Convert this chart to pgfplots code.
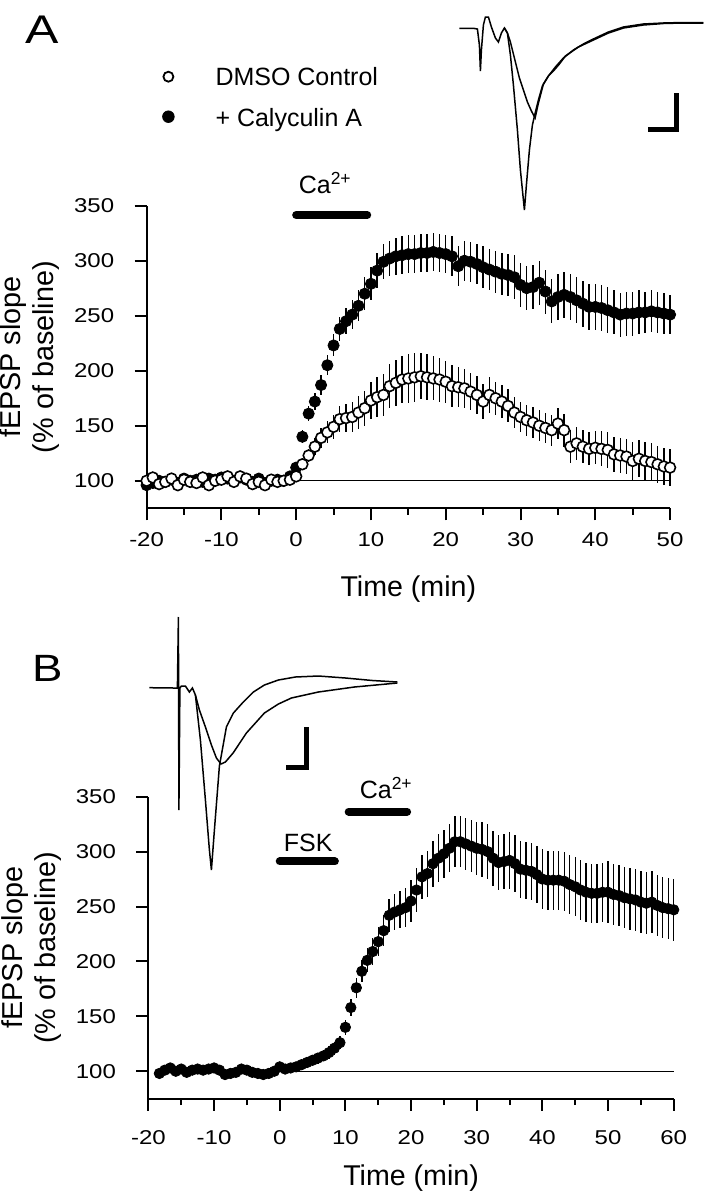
\documentclass[border=0pt]{standalone}
\usepackage{fontspec}
\setmainfont{Liberation Sans}
\usepackage{pgfplots}
\pgfplotsset{compat=1.18}

% one image pixel = 0.5pt; overlay axis uses pixel coordinates (y down)
\pgfplotsset{
  fepsp/.style={
    scale only axis,
    anchor=south west,
    ymin=75, ymax=350,
    axis x line*=bottom, axis y line*=left,
    axis line style={line width=1pt, -},
    ytick={100,150,...,350},
    tick align=outside,
    major tick length=6pt, minor tick length=3.2pt,
    every tick/.style={black, line width=1pt},
    tick label style={font=\fontsize{10}{12}\selectfont, xscale=1.2},
    yticklabel style={xshift=-5pt},
    xticklabel style={yshift=-2.5pt},
    /pgf/number format/assume math mode=true,
    every axis y label/.style={at={(axis description cs:-0.165,0.5)}, rotate=90,
      anchor=south, align=center, inner sep=0pt, font=\fontsize{14.4}{16.5}\selectfont},
    ylabel={fEPSP slope\\(\% of baseline)},
    xlabel={Time (min)},
    clip=false,
  },
  errs/.style={error bars/y dir=both, error bars/y explicit, error bars/error mark=none,
    error bars/error bar style={line width=0.7pt, black}},
  filled/.style={only marks, mark=*, mark size=2.8pt, black, errs},
  open/.style={only marks, mark=*, mark size=2.7pt,
    mark options={fill=white, draw=black, line width=0.8pt}, errs},
}

\begin{document}
\begin{tikzpicture}
\path (0pt,0pt) rectangle (353pt,599.5pt);

% ---------------- panel A ----------------
\begin{axis}[fepsp,
  at={(71.6pt,345.35pt)}, width=261.75pt, height=151.3pt,
  xmin=-20, xmax=50,
  xtick={-20,-10,...,50}, minor xtick={-15,-5,...,45},
  every axis x label/.style={at={(axis description cs:0.5,-0.292)}, anchor=base,
    font=\fontsize{14.3}{16}\selectfont},
]
\addplot[black, line width=0.7pt] coordinates {(0,100) (50,100)};
\addplot[black, line width=4pt, line cap=round] coordinates {(0,341.5) (9.5,341.5)};
% + Calyculin A
\addplot[filled] coordinates {
 (-20.00,96) +- (0,4) (-19.17,98) +- (0,4) (-18.33,100) +- (0,4) (-17.50,99) +- (0,4) (-16.67,101) +- (0,4)
 (-15.83,98) +- (0,4) (-15.00,102) +- (0,4) (-14.17,100) +- (0,4) (-13.33,101) +- (0,4) (-12.50,99) +- (0,4)
 (-11.67,102) +- (0,4) (-10.83,101) +- (0,4) (-10.00,103) +- (0,4) (-9.17,102) +- (0,4) (-8.33,100) +- (0,4)
 (-7.50,103) +- (0,4) (-6.67,101) +- (0,4) (-5.83,99) +- (0,4) (-5.00,102) +- (0,4) (-4.17,98) +- (0,4)
 (-3.33,100) +- (0,4) (-2.50,101) +- (0,4) (-1.67,100) +- (0,4) (-0.83,104) +- (0,4) (0.00,112) +- (0,5)
 (0.83,140) +- (0,6) (1.67,161) +- (0,7) (2.50,172) +- (0,8) (3.33,187) +- (0,9) (4.17,205) +- (0,9)
 (5.00,223) +- (0,10) (5.83,238) +- (0,11) (6.67,245) +- (0,12) (7.50,251) +- (0,13) (8.33,259) +- (0,14)
 (9.17,270) +- (0,15) (10.00,279) +- (0,15) (10.83,291) +- (0,16) (11.67,299) +- (0,16) (12.50,302) +- (0,16)
 (13.33,304) +- (0,17) (14.17,305) +- (0,17) (15.00,306) +- (0,17) (15.83,306) +- (0,17) (16.67,307) +- (0,17)
 (17.50,307) +- (0,17) (18.33,308) +- (0,17) (19.17,307) +- (0,17) (20.00,306) +- (0,17) (20.83,304) +- (0,18)
 (21.67,295) +- (0,18) (22.50,300) +- (0,18) (23.33,299) +- (0,18) (24.17,297) +- (0,18) (25.00,294) +- (0,19)
 (25.83,292) +- (0,19) (26.67,290) +- (0,19) (27.50,288) +- (0,19) (28.33,287) +- (0,19) (29.17,285) +- (0,20)
 (30.00,278) +- (0,20) (30.83,275) +- (0,20) (31.67,276) +- (0,20) (32.50,280) +- (0,20) (33.33,272) +- (0,20)
 (34.17,263) +- (0,20) (35.00,267) +- (0,21) (35.83,269) +- (0,21) (36.67,267) +- (0,21) (37.50,264) +- (0,21)
 (38.33,261) +- (0,21) (39.17,258) +- (0,21) (40.00,258) +- (0,21) (40.83,257) +- (0,21) (41.67,255) +- (0,21)
 (42.50,253) +- (0,20) (43.33,251) +- (0,20) (44.17,252) +- (0,20) (45.00,252) +- (0,20) (45.83,253) +- (0,20)
 (46.67,253) +- (0,19) (47.50,254) +- (0,19) (48.33,253) +- (0,19) (49.17,252) +- (0,19) (50.00,251) +- (0,18)
};
% DMSO control
\addplot[open] coordinates {
 (-20.00,100) +- (0,3) (-19.17,103) +- (0,3) (-18.33,97) +- (0,3) (-17.50,99) +- (0,3) (-16.67,102) +- (0,3)
 (-15.83,96) +- (0,3) (-15.00,101) +- (0,3) (-14.17,99) +- (0,3) (-13.33,98) +- (0,3) (-12.50,103) +- (0,3)
 (-11.67,96) +- (0,3) (-10.83,100) +- (0,3) (-10.00,101) +- (0,3) (-9.17,104) +- (0,3) (-8.33,99) +- (0,3)
 (-7.50,104) +- (0,3) (-6.67,102) +- (0,3) (-5.83,97) +- (0,3) (-5.00,99) +- (0,3) (-4.17,96) +- (0,3)
 (-3.33,101) +- (0,3) (-2.50,99) +- (0,3) (-1.67,100) +- (0,3) (-0.83,101) +- (0,3) (0.00,104) +- (0,4)
 (0.83,115) +- (0,5) (1.67,123) +- (0,6) (2.50,131) +- (0,8) (3.33,139) +- (0,9) (4.17,144) +- (0,10)
 (5.00,149) +- (0,11) (5.83,156) +- (0,12) (6.67,157) +- (0,13) (7.50,158) +- (0,14) (8.33,162) +- (0,15)
 (9.17,166) +- (0,16) (10.00,173) +- (0,17) (10.83,176) +- (0,18) (11.67,178) +- (0,19) (12.50,186) +- (0,20)
 (13.33,189) +- (0,21) (14.17,192) +- (0,21) (15.00,193) +- (0,22) (15.83,194) +- (0,22) (16.67,195) +- (0,21)
 (17.50,194) +- (0,21) (18.33,193) +- (0,20) (19.17,192) +- (0,20) (20.00,190) +- (0,19) (20.83,186) +- (0,19)
 (21.67,185) +- (0,18) (22.50,184) +- (0,18) (23.33,181) +- (0,17) (24.17,178) +- (0,17) (25.00,172) +- (0,16)
 (25.83,178) +- (0,16) (26.67,175) +- (0,15) (27.50,172) +- (0,15) (28.33,168) +- (0,15) (29.17,162) +- (0,14)
 (30.00,158) +- (0,14) (30.83,155) +- (0,14) (31.67,153) +- (0,14) (32.50,150) +- (0,14) (33.33,148) +- (0,14)
 (34.17,146) +- (0,14) (35.00,152) +- (0,14) (35.83,146) +- (0,15) (36.67,131) +- (0,15) (37.50,134) +- (0,15)
 (38.33,131) +- (0,15) (39.17,129) +- (0,15) (40.00,130) +- (0,15) (40.83,129) +- (0,16) (41.67,128) +- (0,16)
 (42.50,124) +- (0,16) (43.33,123) +- (0,16) (44.17,122) +- (0,16) (45.00,118) +- (0,17) (45.83,120) +- (0,17)
 (46.67,118) +- (0,17) (47.50,117) +- (0,17) (48.33,115) +- (0,17) (49.17,113) +- (0,17) (50.00,112) +- (0,17)
};
\end{axis}

% ---------------- panel B ----------------
\begin{axis}[fepsp,
  at={(72.5pt,50.15pt)}, width=262.65pt, height=151pt,
  xmin=-20, xmax=60,
  xtick={-20,-10,...,60}, minor xtick={-15,-5,...,55},
  xticklabel style={yshift=-4pt},
  every axis x label/.style={at={(axis description cs:0.5,-0.286)}, anchor=base,
    font=\fontsize{14.3}{16}\selectfont},
]
\addplot[black, line width=0.7pt] coordinates {(0,100) (60,100)};
\addplot[black, line width=4pt, line cap=round] coordinates {(0,291) (8.4,291)};
\addplot[black, line width=4pt, line cap=round] coordinates {(10.5,336.4) (19.4,336.4)};
\addplot[filled, mark size=2.6pt] coordinates {
 (-18.33,98) +- (0,3) (-17.50,101) +- (0,3) (-16.67,103) +- (0,3) (-15.83,100) +- (0,3) (-15.00,102) +- (0,3)
 (-14.17,99) +- (0,3) (-13.33,101) +- (0,3) (-12.50,102) +- (0,3) (-11.67,101) +- (0,3) (-10.83,102) +- (0,3)
 (-10.00,103) +- (0,3) (-9.17,101) +- (0,3) (-8.33,97) +- (0,3) (-7.50,98) +- (0,3) (-6.67,99) +- (0,3)
 (-5.83,102) +- (0,3) (-5.00,101) +- (0,3) (-4.17,99) +- (0,3) (-3.33,98) +- (0,3) (-2.50,97) +- (0,3)
 (-1.67,98) +- (0,3) (-0.83,100) +- (0,3) (0.00,104) +- (0,4) (0.83,102) +- (0,4) (1.67,103) +- (0,4)
 (2.50,104) +- (0,4) (3.33,106) +- (0,4) (4.17,108) +- (0,5) (5.00,110) +- (0,5) (5.83,112) +- (0,5)
 (6.67,114) +- (0,5) (7.50,117) +- (0,6) (8.33,121) +- (0,6) (9.17,126) +- (0,6) (10.00,140) +- (0,7)
 (10.83,158) +- (0,8) (11.67,176) +- (0,9) (12.50,191) +- (0,10) (13.33,201) +- (0,11) (14.17,209) +- (0,12)
 (15.00,218) +- (0,13) (15.83,228) +- (0,14) (16.67,242) +- (0,15) (17.50,245) +- (0,16) (18.33,247) +- (0,17)
 (19.17,249) +- (0,18) (20.00,255) +- (0,19) (20.83,265) +- (0,20) (21.67,277) +- (0,20) (22.50,280) +- (0,21)
 (23.33,289) +- (0,21) (24.17,294) +- (0,22) (25.00,298) +- (0,22) (25.83,303) +- (0,22) (26.67,309) +- (0,23)
 (27.50,309) +- (0,23) (28.33,307) +- (0,24) (29.17,305) +- (0,24) (30.00,303) +- (0,24) (30.83,302) +- (0,25)
 (31.67,300) +- (0,25) (32.50,294) +- (0,25) (33.33,290) +- (0,25) (34.17,291) +- (0,25) (35.00,292) +- (0,26)
 (35.83,289) +- (0,26) (36.67,284) +- (0,26) (37.50,283) +- (0,26) (38.33,282) +- (0,26) (39.17,279) +- (0,26)
 (40.00,275) +- (0,27) (40.83,274) +- (0,27) (41.67,274) +- (0,27) (42.50,274) +- (0,27) (43.33,273) +- (0,27)
 (44.17,270) +- (0,27) (45.00,268) +- (0,27) (45.83,265) +- (0,27) (46.67,263) +- (0,27) (47.50,262) +- (0,27)
 (48.33,262) +- (0,27) (49.17,263) +- (0,27) (50.00,263) +- (0,28) (50.83,261) +- (0,28) (51.67,260) +- (0,28)
 (52.50,258) +- (0,28) (53.33,257) +- (0,28) (54.17,256) +- (0,28) (55.00,254) +- (0,28) (55.83,253) +- (0,28)
 (56.67,254) +- (0,28) (57.50,251) +- (0,28) (58.33,249) +- (0,28) (59.17,248) +- (0,28) (60.00,247) +- (0,28)
};
\end{axis}

% ---------------- labels, legend and sample traces (pixel coordinates) ----------------
\begin{axis}[at={(0pt,0pt)}, anchor=south west, scale only axis,
  width=353pt, height=599.5pt, xmin=0, xmax=706, ymin=0, ymax=1199,
  y dir=reverse, hide axis, clip=false]
% trace A
\addplot[black, line width=0.75pt] coordinates {
 (456,28.3) (470,28.3) (474,29) (476,45) (477,71) (478,50) (480,25) (482,17) (485,17) (488,27)
 (492,38) (495,42) (498,33) (501,28) (504,33) (507,55) (510,85) (514,130) (517,170) (519.5,195)
 (521,210) (523,185) (526,150) (529,125) (532,112) (535,100) (539,86) (545,76) (552,67) (560,58)
 (570,50) (580,44) (590,39) (605,32) (620,27) (640,24) (660,23) (680,22.5) (700,22.5)
};
\addplot[black, line width=0.75pt] coordinates {
 (501,28) (504,33) (507,42) (512,62) (516,78) (520,90) (524,102) (528,111) (531.7,118)
 (535,103) (540,84) (545,76) (550,71) (556,64) (562,56) (575,47) (590,40) (605,33) (620,28)
 (640,25) (660,23.5) (680,23) (700,23)
};
% scale bar A
\addplot[black, line width=2.5pt] coordinates {(645,129.3) (672.7,129.3) (672.7,93.3)};
% trace B
\addplot[black, line width=0.75pt] coordinates {
 (146,687.7) (170,688) (174,688) (175,617) (175.5,810) (176.5,688) (178,686) (182,686) (186,692)
 (189,688) (192,695) (197,740) (202,800) (206,850) (208,870) (211,830) (216,766) (223,727)
 (230,713) (239,703) (250,692) (261,685) (275,680) (292,677) (315,676) (342,678) (369,680.5) (394,682)
};
\addplot[black, line width=0.75pt] coordinates {
 (192,695) (196,710) (202,727) (208,745) (213,758) (217.6,764) (222,762) (229.7,753) (243,733)
 (261,713) (275,704) (288,698) (315,692) (351,687) (394,683)
};
% scale bar B
\addplot[black, line width=2.5pt] coordinates {(282.9,767.3) (302.7,767.3) (302.7,726.7)};
% legend symbols
\addplot[only marks, mark=*, mark size=2.5pt, mark options={fill=white, draw=black, line width=0.9pt}]
  coordinates {(165,76.7)};
\addplot[only marks, mark=*, mark size=2.9pt, black] coordinates {(165,116.7)};
\node[anchor=base west, inner sep=0pt, font=\fontsize{12.5}{14}\selectfont] at (axis cs:211.7,85) {DMSO Control};
\node[anchor=base west, inner sep=0pt, font=\fontsize{12.5}{14}\selectfont] at (axis cs:211.7,126.7) {+ Calyculin A};
% panel letters and drug labels
\node[anchor=base, inner sep=0pt, xscale=1.25, font=\fontsize{20}{22}\selectfont] at (axis cs:39,43) {A};
\node[anchor=base, inner sep=0pt, xscale=1.2, font=\fontsize{19}{22}\selectfont] at (axis cs:44,681.5) {B};
\node[anchor=base west, inner sep=0pt, font=\fontsize{12.5}{14}\selectfont] at (axis cs:295,193) {Ca\textsuperscript{2+}};
\node[anchor=base west, inner sep=0pt, font=\fontsize{12.5}{14}\selectfont] at (axis cs:356,798) {Ca\textsuperscript{2+}};
\node[anchor=base west, inner sep=0pt, font=\fontsize{12.5}{14}\selectfont] at (axis cs:280,851.7) {FSK};
\end{axis}
\end{tikzpicture}
\end{document}
